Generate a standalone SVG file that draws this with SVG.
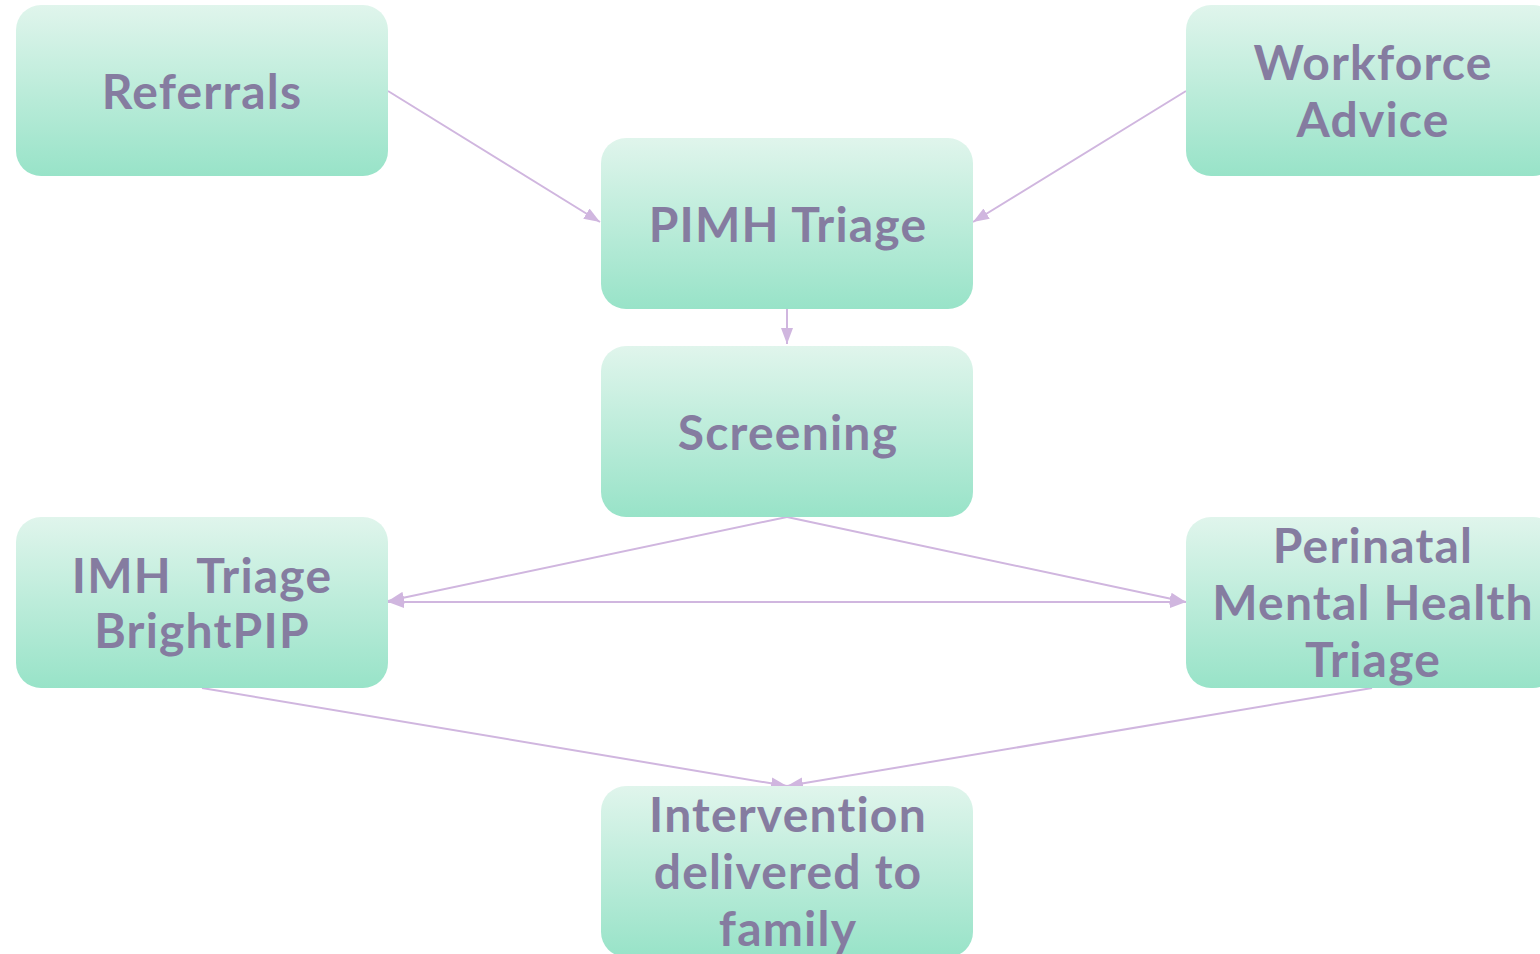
<svg xmlns="http://www.w3.org/2000/svg" width="1540" height="954" viewBox="0 0 1540 954">
  <defs>
    <linearGradient id="nodeFill" x1="0" y1="0" x2="0" y2="1">
      <stop offset="0" stop-color="#e0f5ec"/>
      <stop offset="1" stop-color="#98e3c8"/>
    </linearGradient>
    <marker id="arrow" viewBox="0 0 16 12" refX="16" refY="6" markerWidth="16" markerHeight="12" markerUnits="userSpaceOnUse" orient="auto-start-reverse">
      <path d="M0,0 L16,6 L0,12 Z" fill="#d0b6df"/>
    </marker>
    <style>
      .box { fill: url(#nodeFill); }
      .label { font-family: Lato, "DejaVu Sans", sans-serif; font-weight: bold; font-size: 48px; letter-spacing: 1.2px; fill: #857ca0; text-anchor: middle; }
      .edge { stroke: #d0b6df; stroke-width: 2; fill: none; marker-end: url(#arrow); }
    </style>
  </defs>

  <g id="connectors">
    <line class="edge" x1="388" y1="91" x2="600" y2="222"/>
    <line class="edge" x1="1186" y1="91" x2="973" y2="222"/>
    <line class="edge" x1="787" y1="309" x2="787" y2="344"/>
    <line class="edge" x1="787" y1="517" x2="388" y2="601"/>
    <line class="edge" x1="787" y1="517" x2="1186" y2="602"/>
    <line class="edge" x1="388" y1="602" x2="1186" y2="602" style="marker-start:url(#arrow)"/>
    <line class="edge" x1="202" y1="688" x2="787" y2="786"/>
    <line class="edge" x1="1372" y1="688" x2="787" y2="786"/>
  </g>

  <g id="referrals">
    <rect class="box" x="16" y="5" width="372" height="171" rx="25"/>
    <text class="label" x="202" y="109">Referrals</text>
  </g>

  <g id="workforce-advice">
    <rect class="box" x="1186" y="5" width="372" height="171" rx="25"/>
    <text class="label" x="1373" y="80">Workforce</text>
    <text class="label" x="1373" y="137">Advice</text>
  </g>

  <g id="pimh-triage">
    <rect class="box" x="601" y="138" width="372" height="171" rx="25"/>
    <text class="label" x="788" y="242">PIMH Triage</text>
  </g>

  <g id="screening">
    <rect class="box" x="601" y="346" width="372" height="171" rx="25"/>
    <text class="label" x="788" y="450">Screening</text>
  </g>

  <g id="imh-triage">
    <rect class="box" x="16" y="517" width="372" height="171" rx="25"/>
    <text class="label" x="202" y="593" xml:space="preserve">IMH  Triage</text>
    <text class="label" x="202" y="648">BrightPIP</text>
  </g>

  <g id="perinatal-triage">
    <rect class="box" x="1186" y="517" width="372" height="171" rx="25"/>
    <text class="label" x="1373" y="563">Perinatal</text>
    <text class="label" x="1373" y="620">Mental Health</text>
    <text class="label" x="1373" y="677">Triage</text>
  </g>

  <g id="intervention">
    <rect class="box" x="601" y="786" width="372" height="171" rx="25"/>
    <text class="label" x="788" y="832">Intervention</text>
    <text class="label" x="788" y="889">delivered to</text>
    <text class="label" x="788" y="946">family</text>
  </g>
</svg>
